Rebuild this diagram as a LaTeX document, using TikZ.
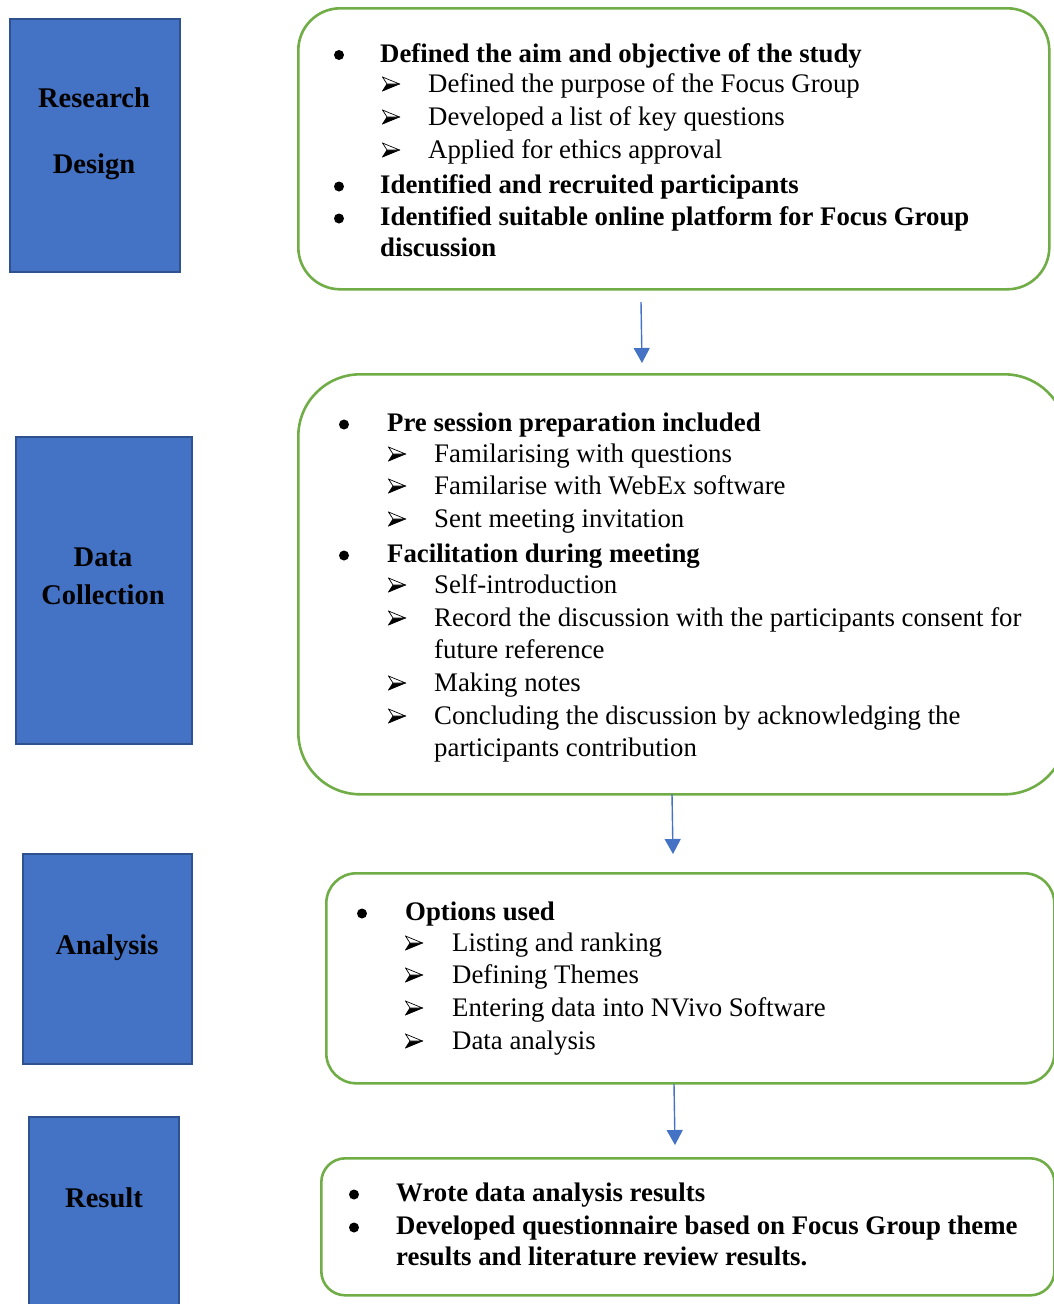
\documentclass[tikz,border=0pt]{standalone}
\usepackage{fontspec}
\setmainfont{Liberation Serif}
\usetikzlibrary{arrows.meta}

\definecolor{stageblue}{HTML}{4472C4}
\definecolor{stageedge}{HTML}{2F528F}
\definecolor{phasegreen}{HTML}{70AD47}
\definecolor{flowblue}{HTML}{4472C4}

\tikzset{
  stagebox/.style={draw=stageedge, line width=2pt, fill=stageblue, inner sep=0pt, anchor=north west},
  stagelabel/.style={font=\fontsize{28.5}{34}\selectfont\bfseries, anchor=base, inner sep=0pt},
  phasebox/.style={draw=phasegreen, line width=2.6pt, inner sep=0pt, anchor=north west},
  headtext/.style={font=\fontsize{26.8}{33}\selectfont\bfseries, anchor=base west, inner sep=0pt},
  subtext/.style={font=\fontsize{26.8}{33}\selectfont, anchor=base west, inner sep=0pt},
  dotmark/.style={circle, fill=black, minimum size=10pt, inner sep=0pt},
  % three-d arrowhead bullet: outlined upper half, solid lower half
  arrowmark/.style={minimum width=18pt, minimum height=15pt, inner sep=0pt,
    path picture={
      \begin{scope}[shift={(path picture bounding box.center)}, x=1pt, y=1pt,
                    line width=0.7pt, line join=miter]
        \filldraw[black] (-8.5,-7) -- (8.5,0) -- (-4,0) -- cycle;
        \draw[black, fill=white] (-8.5,7) -- (8.5,0) -- (-4,0) -- cycle;
      \end{scope}}},
  flowarrow/.style={draw=flowblue, line width=1.4pt, -{Triangle[length=15pt,width=16pt]}},
}

\begin{document}
\begin{tikzpicture}[x=1pt,y=-1pt]
\useasboundingbox (0,0) rectangle (1054,1304);

% ---- stage boxes on the left ----
\node[stagebox, minimum width=170pt, minimum height=253pt] (rd) at (9,18) {};
\node[stagebox, minimum width=176pt, minimum height=307pt] (dc) at (15,436) {};
\node[stagebox, minimum width=169pt, minimum height=210pt] (an) at (22,853) {};
\node[stagebox, minimum width=150pt, minimum height=200pt] (rs) at (28,1116) {};

\node[stagelabel] (rdA) at (94,107) {Research};
\node[stagelabel] (rdB) at (94,173) {Design};
\node[stagelabel] (dcA) at (103,566) {Data};
\node[stagelabel] (dcB) at (103,604) {Collection};
\node[stagelabel] (anA) at (107,954) {Analysis};
\node[stagelabel] (rsA) at (104,1207) {Result};

% ---- phase boxes on the right ----
\node[phasebox, rounded corners=42pt, minimum width=751pt, minimum height=281pt] (p1) at (297,7) {};
\node[phasebox, rounded corners=62pt, minimum width=768pt, minimum height=420pt] (p2) at (297,373) {};
\node[phasebox, rounded corners=30pt, minimum width=728pt, minimum height=210pt] (p3) at (325,872) {};
\node[phasebox, rounded corners=24pt, minimum width=733pt, minimum height=137pt] (p4) at (320,1157) {};

% ---- research design ----
\node[dotmark] (p1d1) at (339,55) {};
\node[headtext] (p1h1) at (380,62) {Defined the aim and objective of the study};
\node[arrowmark] (p1m1) at (391,84) {};
\node[subtext] (p1s1) at (428,92.5) {Defined the purpose of the Focus Group};
\node[arrowmark] (p1m2) at (391,117) {};
\node[subtext] (p1s2) at (428,125.5) {Developed a list of key questions};
\node[arrowmark] (p1m3) at (391,150) {};
\node[subtext] (p1s3) at (428,158.5) {Applied for ethics approval};
\node[dotmark] (p1d2) at (339,186.5) {};
\node[headtext] (p1h2) at (380,193.5) {Identified and recruited participants};
\node[dotmark] (p1d3) at (339,218.5) {};
\node[headtext] (p1h3) at (380,225.5) {Identified suitable online platform for Focus Group};
\node[headtext] (p1h3b) at (380,256.5) {discussion};

% ---- data collection ----
\node[dotmark] (p2d1) at (344,424.5) {};
\node[headtext] (p2h1) at (387,431.5) {Pre session preparation included};
\node[arrowmark] (p2m1) at (397,454) {};
\node[subtext] (p2s1) at (434,462.5) {Familarising with questions};
\node[arrowmark] (p2m2) at (397,486) {};
\node[subtext] (p2s2) at (434,494.5) {Familarise with WebEx software};
\node[arrowmark] (p2m3) at (397,519) {};
\node[subtext] (p2s3) at (434,527.5) {Sent meeting invitation};
\node[dotmark] (p2d2) at (344,555.5) {};
\node[headtext] (p2h2) at (387,562.5) {Facilitation during meeting};
\node[arrowmark] (p2m4) at (397,585) {};
\node[subtext] (p2s4) at (434,593.5) {Self-introduction};
\node[arrowmark] (p2m5) at (397,618) {};
\node[subtext] (p2s5) at (434,626.5) {Record the discussion with the participants consent for};
\node[subtext] (p2s5b) at (434,658.5) {future reference};
\node[arrowmark] (p2m6) at (397,683) {};
\node[subtext] (p2s6) at (434,691.5) {Making notes};
\node[arrowmark] (p2m7) at (397,716) {};
\node[subtext] (p2s7) at (434,724.5) {Concluding the discussion by acknowledging the};
\node[subtext] (p2s7b) at (434,756.5) {participants contribution};

% ---- analysis ----
\node[dotmark] (p3d1) at (362,913.5) {};
\node[headtext] (p3h1) at (405,920.5) {Options used};
\node[arrowmark] (p3m1) at (414,943) {};
\node[subtext] (p3s1) at (452,951.5) {Listing and ranking};
\node[arrowmark] (p3m2) at (414,975) {};
\node[subtext] (p3s2) at (452,983.5) {Defining Themes};
\node[arrowmark] (p3m3) at (414,1008) {};
\node[subtext] (p3s3) at (452,1016.5) {Entering data into NVivo Software};
\node[arrowmark] (p3m4) at (414,1041) {};
\node[subtext] (p3s4) at (452,1049.5) {Data analysis};

% ---- result ----
\node[dotmark] (p4d1) at (354,1194.5) {};
\node[headtext] (p4h1) at (396,1201.5) {Wrote data analysis results};
\node[dotmark] (p4d2) at (354,1227.5) {};
\node[headtext] (p4h2) at (396,1234.5) {Developed questionnaire based on Focus Group theme};
\node[headtext] (p4h2b) at (396,1265.5) {results and literature review results.};

% ---- flow arrows between phases ----
\coordinate (f1s) at (641,302);
\coordinate (f1e) at (642,363);
\coordinate (f2s) at (672,794);
\coordinate (f2e) at (673,854);
\coordinate (f3s) at (674,1084);
\coordinate (f3e) at (675,1145);
\draw[flowarrow] (f1s) -- (f1e);
\draw[flowarrow] (f2s) -- (f2e);
\draw[flowarrow] (f3s) -- (f3e);
\end{tikzpicture}
\end{document}
